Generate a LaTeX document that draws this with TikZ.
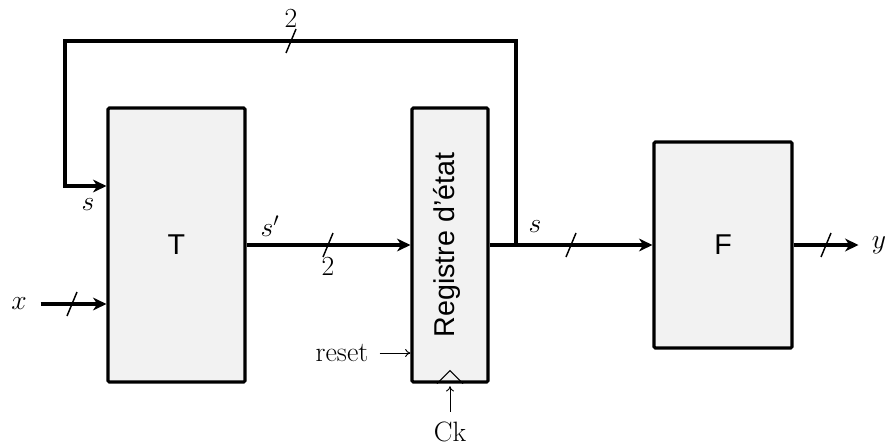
\documentclass[tikz,border=0pt]{standalone}
\usepackage{fontspec}
\setsansfont{Liberation Sans}
\usetikzlibrary{arrows.meta,calc}
\definecolor{boxgray}{HTML}{F2F2F2}
\begin{document}
\begin{tikzpicture}[x=0.75pt,y=-0.75pt,
  font=\fontsize{21}{25}\selectfont,
  box/.style={draw, line width=2.3pt, fill=boxgray, rounded corners=1pt, inner sep=0pt,
              font=\sffamily\fontsize{21.5}{25}\selectfont},
  bus/.style={line width=2.3pt, -{Stealth[length=10pt,width=9.5pt,inset=3pt]}},
  thinarrow/.style={line width=0.7pt, -{To[length=4pt,width=6pt]}},
  slashmark/.pic={\draw[line width=1.1pt] (-5,12) -- (5,-12);}]
\useasboundingbox (0,0) rectangle (885,446);
% blocks
\node[box, minimum width=102.75pt, minimum height=205.5pt] (T) at (176.5,245) {T};
\node[box, minimum width=57pt, minimum height=205.5pt] (R) at (450,245) {};
\node[rotate=90, font=\sffamily\fontsize{21.5}{25}\selectfont] (Rtext) at (447,245) {Registre d’état};
\node[box, minimum width=103.5pt, minimum height=154.5pt] (F) at (723,245) {F};
% labels
\node (x) at (19,304) {$x$};
\node (y) at (879,245) {$y$};
\node (reset) at (342,353) {reset};
\node (ck) at (450,432) {Ck};
\node (sfb) at (88,205) {$s$};
\node (sp) at (270,226) {$s'$};
\node (sout) at (535,227) {$s$};
\node (n2a) at (291,19) {$2$};
\node (n2b) at (328,267) {$2$};
% coordinates
\coordinate (j) at (516,245);
\coordinate (fbTL) at (65,41);
\coordinate (fbIn) at (65,186);
% connectors
\draw[bus] (T.east) -- (R.west);
\draw[bus] (R.east) -- (F.west);
\draw[bus] (F.east) -- ([xshift=-6.5pt]y.west);
\draw[bus] ([xshift=7pt]x.east) -- (x.east -| T.west);
\draw[bus] (j) |- (fbTL) -- (fbIn) -- (fbIn -| T.west);
\draw[thinarrow, shorten <=5pt] (reset.east) -- (reset.east -| R.west);
\draw[thinarrow, shorten <=4pt, shorten >=2pt] (ck.north) -- (R.south);
% clock triangle
\draw[line width=0.8pt] ($(R.south)+(-13,0)$) -- ($(R.south)+(0,-13)$) -- ($(R.south)+(13,0)$);
% bus slashes
\path (291,41) pic{slashmark};
\path (328,245) pic{slashmark};
\path (72,304) pic{slashmark};
\path (571,245) pic{slashmark};
\path (826,245) pic{slashmark};
\end{tikzpicture}
\end{document}
